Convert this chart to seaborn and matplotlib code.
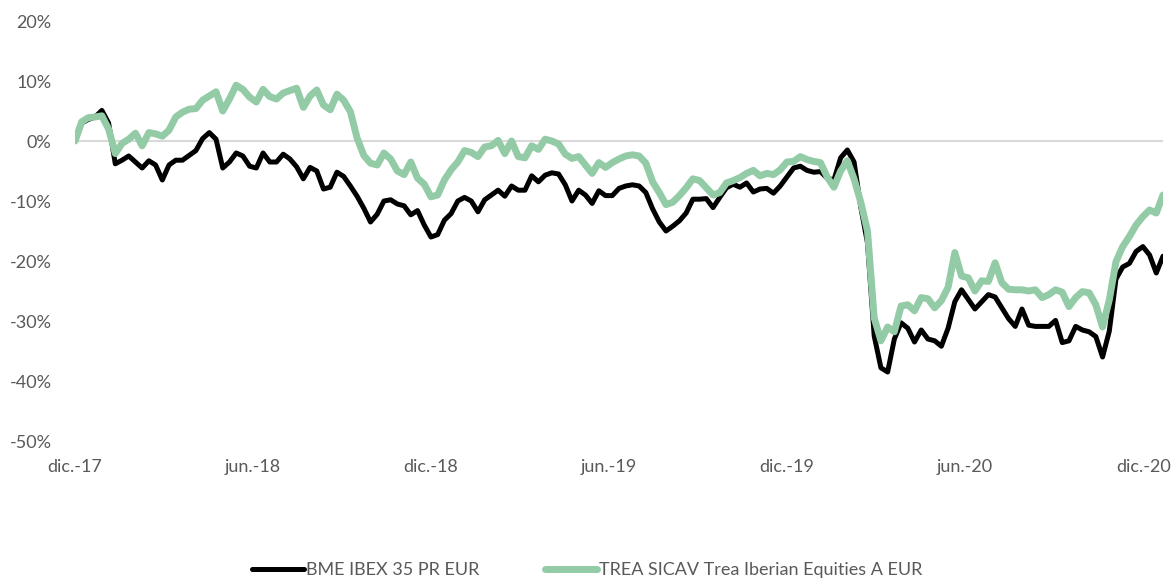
import numpy as np
import pandas as pd
import seaborn as sns
from matplotlib import pyplot as plt
from matplotlib.lines import Line2D

# rentabilidad acumulada (%), puntos equiespaciados 1-dic-17 -> ~21-dic-20
ibex = [0.0, 3.0, 3.6, 4.0, 5.1, 3.0, -3.8, -3.2, -2.5, -3.5,
        -4.5, -3.3, -4.0, -6.5, -4.0, -3.2, -3.2, -2.4, -1.6, 0.4,
        1.4, 0.3, -4.5, -3.5, -2.0, -2.5, -4.2, -4.5, -2.0, -3.5,
        -3.5, -2.2, -3.0, -4.3, -6.3, -4.4, -5.0, -8.0, -7.7, -5.2,
        -5.9, -7.5, -9.2, -11.2, -13.5, -12.2, -10.0, -9.8, -10.5, -10.8,
        -12.3, -11.6, -14.0, -16.0, -15.6, -13.2, -12.1, -10.0, -9.4, -10.0,
        -11.8, -9.8, -9.0, -8.2, -9.2, -7.5, -8.2, -8.2, -5.8, -6.8,
        -5.7, -5.3, -5.5, -7.3, -10.0, -8.2, -9.0, -10.4, -8.3, -9.1,
        -9.1, -7.9, -7.5, -7.3, -7.5, -8.6, -11.3, -13.5, -15.0, -14.2,
        -13.3, -12.0, -9.7, -9.7, -9.6, -11.1, -9.4, -7.8, -7.2, -7.7,
        -7.0, -8.5, -8.0, -7.9, -8.7, -7.5, -6.0, -4.5, -4.2, -4.9,
        -5.2, -5.1, -6.2, -6.5, -2.8, -1.5, -3.5, -11.0, -17.0, -32.5,
        -37.8, -38.5, -33.0, -30.3, -31.2, -33.5, -31.5, -33.0, -33.3, -34.2,
        -31.2, -26.8, -24.8, -26.4, -28.0, -26.8, -25.6, -26.0, -27.8, -29.6,
        -30.9, -28.0, -30.7, -30.9, -30.9, -30.9, -29.9, -33.6, -33.3, -30.9,
        -31.5, -31.8, -32.6, -36.0, -31.7, -23.0, -21.0, -20.4, -18.4, -17.6,
        -19.0, -22.0, -19.2]

trea = [0.0, 3.2, 3.9, 4.0, 4.2, 2.0, -2.1, -0.4, 0.3, 1.3,
        -0.8, 1.4, 1.2, 0.8, 1.8, 4.0, 4.8, 5.3, 5.4, 6.8,
        7.5, 8.2, 5.0, 7.0, 9.3, 8.6, 7.3, 6.5, 8.6, 7.4,
        7.0, 8.0, 8.4, 8.8, 5.6, 7.5, 8.5, 6.0, 5.2, 7.8,
        6.8, 4.9, 0.5, -2.4, -3.7, -4.0, -2.0, -3.0, -5.0, -5.6,
        -3.5, -6.2, -7.2, -9.3, -9.0, -6.5, -4.8, -3.5, -1.6, -1.9,
        -2.6, -1.0, -0.8, 0.1, -2.1, 0.0, -2.6, -2.8, -0.8, -1.4,
        0.3, 0.0, -0.5, -2.2, -2.9, -2.6, -4.0, -5.4, -3.6, -4.4,
        -3.6, -3.0, -2.5, -2.3, -2.5, -3.7, -6.8, -8.6, -10.6, -10.2,
        -9.1, -7.8, -6.3, -6.6, -7.8, -9.0, -8.6, -7.0, -6.6, -6.1,
        -5.4, -4.9, -5.8, -5.4, -5.6, -4.8, -3.5, -3.4, -2.6, -3.1,
        -3.4, -3.6, -6.0, -7.7, -5.0, -3.3, -6.3, -10.2, -15.0, -29.5,
        -33.3, -31.0, -31.8, -27.5, -27.3, -28.3, -26.1, -26.3, -27.8, -26.6,
        -24.4, -18.6, -22.5, -22.8, -25.0, -23.3, -23.4, -20.3, -23.6, -24.7,
        -24.8, -24.8, -25.0, -24.8, -26.1, -25.6, -24.8, -25.2, -27.6, -26.1,
        -25.1, -25.3, -27.3, -31.0, -26.5, -20.1, -17.6, -15.9, -14.0, -12.6,
        -11.5, -12.0, -9.0]

names = ['BME IBEX 35 PR EUR', 'TREA SICAV Trea Iberian Equities A EUR']
colors = ['#000000', '#92cba5']
widths = [3.6, 5.0]

first_day, last_day = '2017-12-01', '2020-12-21'
tick_dates = ['2017-12-01', '2018-06-01', '2018-12-01', '2019-06-01',
              '2019-12-01', '2020-06-01', '2020-12-01']
tick_labels = ['dic.-17', 'jun.-18', 'dic.-18', 'jun.-19',
               'dic.-19', 'jun.-20', 'dic.-20']
y_ticks = [-50, -40, -30, -20, -10, 0, 10, 20]

dates = pd.date_range(first_day, last_day, periods=len(ibex))
df = pd.DataFrame({'fecha': dates, names[0]: ibex, names[1]: trea})

sns.set_style('white')
plt.rcParams['font.family'] = ['Lato', 'DejaVu Sans']
grey = '#595959'

fig = plt.figure(figsize=(11.74, 5.83), dpi=100)
ax = fig.add_axes([75 / 1174, 1 - 441 / 583, 1088 / 1174, 420 / 583])

ax.axhline(0, color='#d9d9d9', lw=1.5, zorder=1)
for name, c, w in zip(names, colors, widths):
    sns.lineplot(data=df, x='fecha', y=name, color=c, linewidth=w, ax=ax, zorder=3)

ax.set_xlim(pd.Timestamp(first_day), pd.Timestamp(last_day))
ax.set_ylim(-50, 20)
ax.set_xticks(pd.to_datetime(tick_dates))
ax.set_xticklabels(tick_labels)
ax.set_yticks(y_ticks)
ax.set_yticklabels([f'{v}%' for v in y_ticks])
ax.tick_params(axis='both', length=0, labelsize=13, labelcolor=grey)
ax.tick_params(axis='x', pad=13)
ax.tick_params(axis='y', pad=17)
ax.set_xlabel('')
ax.set_ylabel('')
sns.despine(ax=ax, left=True, bottom=True)

# leyenda abajo, pegada al borde pero entera
handles = [Line2D([], [], color=c, lw=w) for c, w in zip(colors, widths)]
fig.legend(handles, names, loc='center', bbox_to_anchor=(0.5, 1 - 570 / 583),
           ncol=2, frameon=False, fontsize=13, labelcolor=grey,
           handlelength=2.9, handletextpad=0.1, columnspacing=3.6)

fig.savefig('out.png', dpi=100)
